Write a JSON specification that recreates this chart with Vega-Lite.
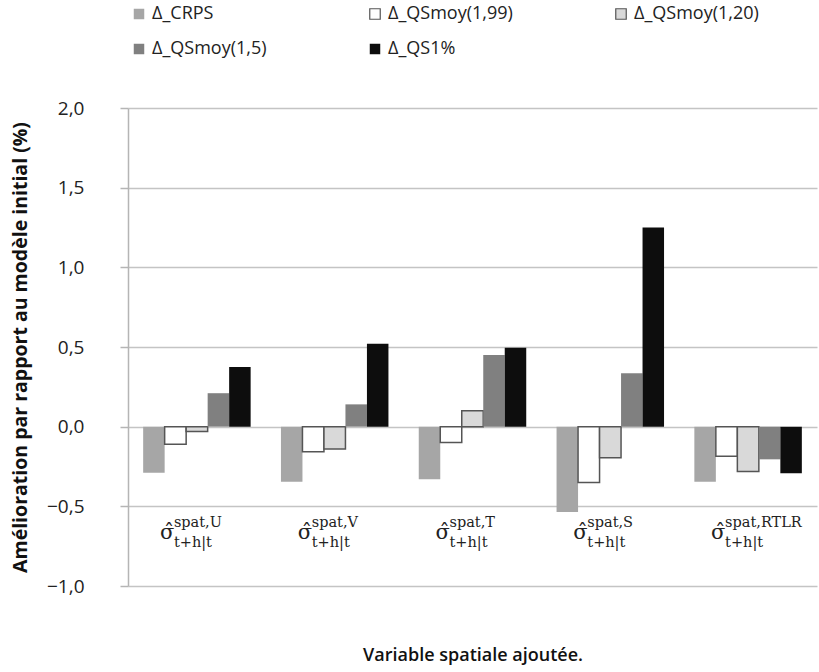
{
  "$schema": "https://vega.github.io/schema/vega-lite/v6.json",
  "width": 689,
  "height": 478,
  "autosize": {"type": "none"},
  "padding": {"left": 128, "top": 108, "right": 2, "bottom": 86},
  "background": "white",
  "config": {"view": {"stroke": null}},
  "datasets": {
    "bars": [
      {"var": "U", "serie": "Δ_CRPS", "value": -0.29},
      {"var": "U", "serie": "Δ_QSmoy(1,99)", "value": -0.11},
      {"var": "U", "serie": "Δ_QSmoy(1,20)", "value": -0.03},
      {"var": "U", "serie": "Δ_QSmoy(1,5)", "value": 0.21},
      {"var": "U", "serie": "Δ_QS1%", "value": 0.375},
      {"var": "V", "serie": "Δ_CRPS", "value": -0.345},
      {"var": "V", "serie": "Δ_QSmoy(1,99)", "value": -0.157},
      {"var": "V", "serie": "Δ_QSmoy(1,20)", "value": -0.14},
      {"var": "V", "serie": "Δ_QSmoy(1,5)", "value": 0.14},
      {"var": "V", "serie": "Δ_QS1%", "value": 0.52},
      {"var": "T", "serie": "Δ_CRPS", "value": -0.33},
      {"var": "T", "serie": "Δ_QSmoy(1,99)", "value": -0.1},
      {"var": "T", "serie": "Δ_QSmoy(1,20)", "value": 0.1},
      {"var": "T", "serie": "Δ_QSmoy(1,5)", "value": 0.45},
      {"var": "T", "serie": "Δ_QS1%", "value": 0.495},
      {"var": "S", "serie": "Δ_CRPS", "value": -0.535},
      {"var": "S", "serie": "Δ_QSmoy(1,99)", "value": -0.35},
      {"var": "S", "serie": "Δ_QSmoy(1,20)", "value": -0.195},
      {"var": "S", "serie": "Δ_QSmoy(1,5)", "value": 0.335},
      {"var": "S", "serie": "Δ_QS1%", "value": 1.25},
      {"var": "RTLR", "serie": "Δ_CRPS", "value": -0.345},
      {"var": "RTLR", "serie": "Δ_QSmoy(1,99)", "value": -0.186},
      {"var": "RTLR", "serie": "Δ_QSmoy(1,20)", "value": -0.282},
      {"var": "RTLR", "serie": "Δ_QSmoy(1,5)", "value": -0.205},
      {"var": "RTLR", "serie": "Δ_QS1%", "value": -0.293}
    ],
    "labels": [
      {"var": "U", "sup": "spat,U", "sub": "t+h|t"},
      {"var": "V", "sup": "spat,V", "sub": "t+h|t"},
      {"var": "T", "sup": "spat,T", "sub": "t+h|t"},
      {"var": "S", "sup": "spat,S", "sub": "t+h|t"},
      {"var": "RTLR", "sup": "spat,RTLR", "sub": "t+h|t"}
    ]
  },
  "encoding": {
    "x": {
      "field": "var", "type": "nominal",
      "sort": ["U", "V", "T", "S", "RTLR"],
      "scale": {"paddingInner": 0.22, "paddingOuter": 0.11},
      "axis": {
        "labels": false, "ticks": false, "domain": false, "grid": false,
        "title": "Variable spatiale ajoutée.",
        "titleFont": "Open Sans", "titleFontSize": 18, "titleFontWeight": 600,
        "titleColor": "#111111", "titlePadding": 60
      }
    }
  },
  "layer": [
    {
      "data": {"name": "bars"},
      "mark": {"type": "bar", "strokeWidth": 1.5},
      "encoding": {
        "xOffset": {"field": "serie", "type": "nominal",
          "sort": ["Δ_CRPS", "Δ_QSmoy(1,99)", "Δ_QSmoy(1,20)", "Δ_QSmoy(1,5)", "Δ_QS1%"],
          "scale": {"paddingInner": 0, "paddingOuter": 0}},
        "y": {
          "field": "value", "type": "quantitative",
          "scale": {"domain": [-1, 2], "nice": false, "zero": false},
          "axis": {
            "values": [-1, -0.5, 0, 0.5, 1, 1.5, 2],
            "labelExpr": "replace(format(datum.value, '.1f'), '.', ',')",
            "grid": true, "gridColor": "#c4c4c4", "gridWidth": 1.5,
            "domain": true, "domainColor": "#b5b5b5", "domainWidth": 1.5,
            "ticks": true, "tickSize": 8, "tickColor": "#b5b5b5", "tickWidth": 1.5,
            "labelFont": "Open Sans", "labelFontSize": 19, "labelColor": "#222222",
            "labelPadding": 36,
            "title": "Amélioration par rapport au modèle initial (%)",
            "titleFont": "Open Sans", "titleFontSize": 19.5, "titleFontWeight": "bold",
            "titleColor": "#111111", "titlePadding": 16
          }
        },
        "fill": {
          "field": "serie", "type": "nominal",
          "sort": ["Δ_CRPS", "Δ_QSmoy(1,99)", "Δ_QSmoy(1,20)", "Δ_QSmoy(1,5)", "Δ_QS1%"],
          "scale": {
            "domain": ["Δ_CRPS", "Δ_QSmoy(1,99)", "Δ_QSmoy(1,20)", "Δ_QSmoy(1,5)", "Δ_QS1%"],
            "range": ["#a6a6a6", "#ffffff", "#d9d9d9", "#808080", "#0d0d0d"]
          },
          "legend": {
            "title": null, "orient": "none", "legendX": 2, "legendY": -103,
            "direction": "horizontal", "columns": 3, "columnPadding": 99, "rowPadding": 17,
            "symbolType": "square", "symbolSize": 110, "symbolStrokeWidth": 1.2, "symbolOpacity": 1,
            "labelFont": "Open Sans", "labelFontSize": 18, "labelColor": "#222222", "labelOffset": 4,
            "labelLimit": 300
          }
        },
        "stroke": {
          "field": "serie", "type": "nominal",
          "scale": {
            "domain": ["Δ_CRPS", "Δ_QSmoy(1,99)", "Δ_QSmoy(1,20)", "Δ_QSmoy(1,5)", "Δ_QS1%"],
            "range": ["transparent", "#555555", "#555555", "transparent", "transparent"]
          },
          "legend": null
        }
      }
    },
    {
      "data": {"name": "labels"},
      "mark": {"type": "text", "text": "σ̂", "font": "DejaVu Serif", "fontSize": 21, "align": "left", "baseline": "middle", "dx": -37, "color": "#222222"},
      "encoding": {"y": {"datum": -0.67}}
    },
    {
      "data": {"name": "labels"},
      "mark": {"type": "text", "font": "DejaVu Serif", "fontSize": 14.5, "align": "left", "baseline": "middle", "dx": -23, "color": "#222222"},
      "encoding": {"y": {"datum": -0.603}, "text": {"field": "sup"}}
    },
    {
      "data": {"name": "labels"},
      "mark": {"type": "text", "font": "DejaVu Serif", "fontSize": 14.5, "align": "left", "baseline": "middle", "dx": -23, "color": "#222222"},
      "encoding": {"y": {"datum": -0.728}, "text": {"field": "sub"}}
    }
  ]
}
